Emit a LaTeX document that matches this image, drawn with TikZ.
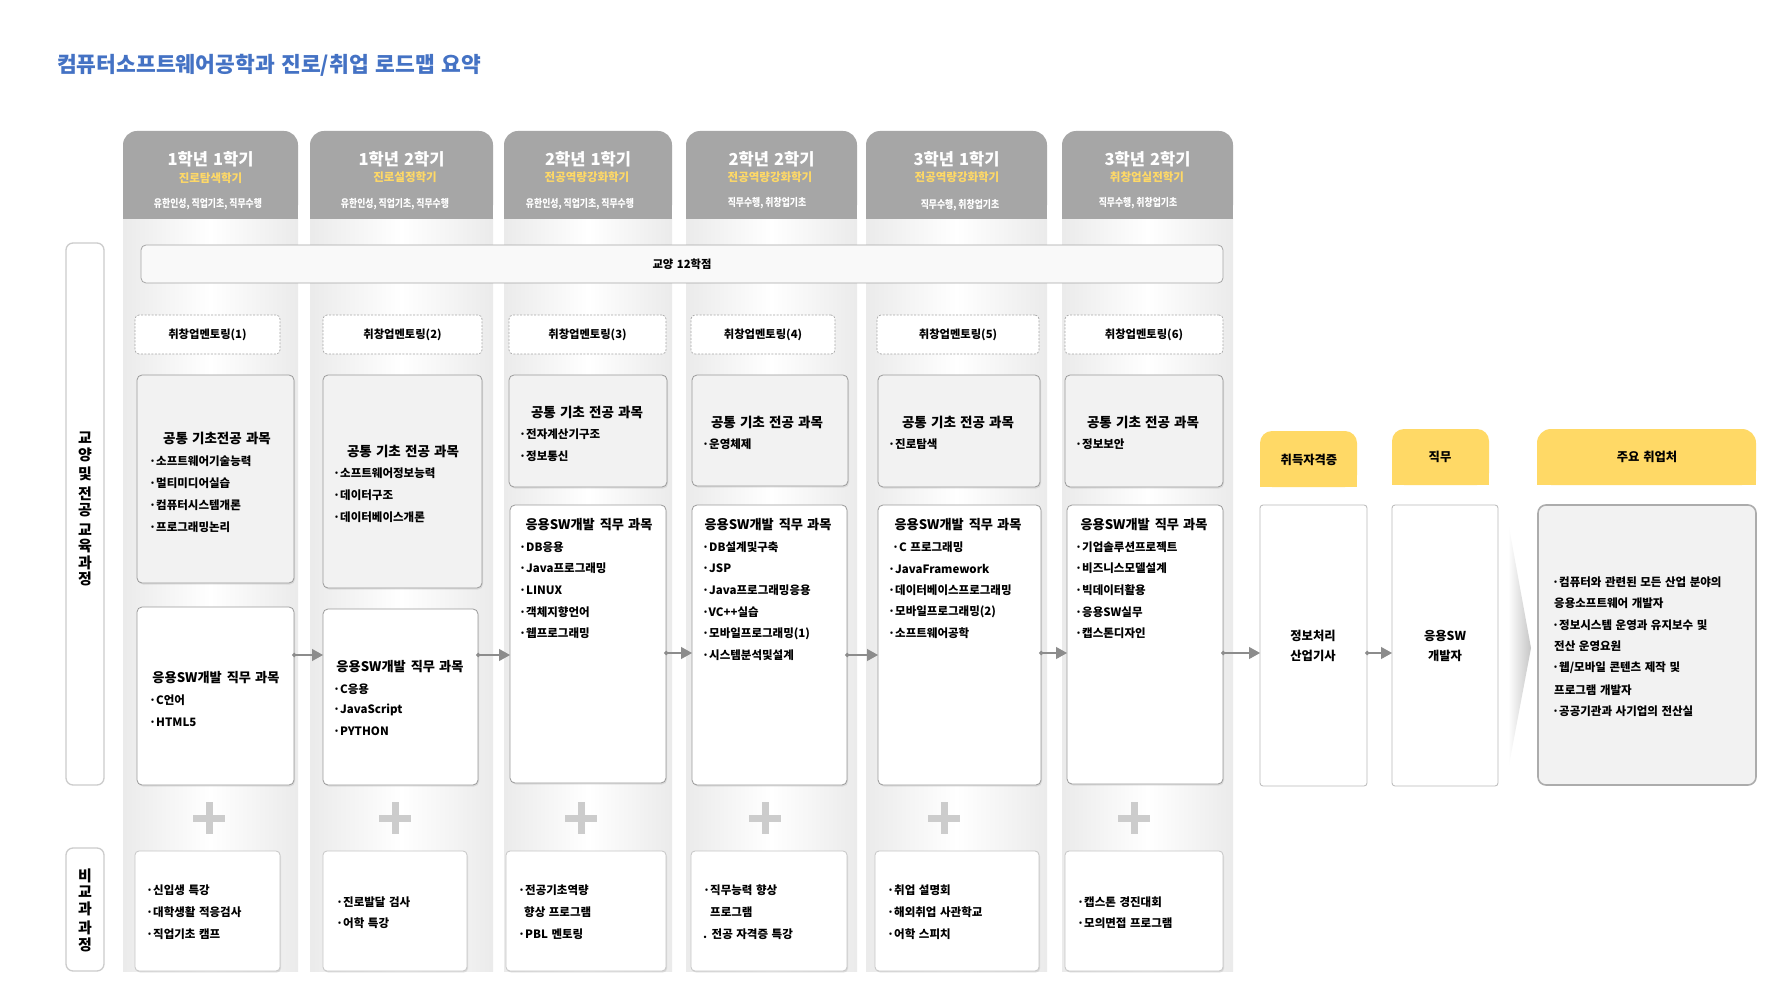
\documentclass[tikz,border=0pt]{standalone}
\usepackage{fontspec}
\setmainfont{Noto Sans CJK KR}[WordSpace=1.35]
\newfontfamily\krcond{Noto Sans CJK KR}[FakeStretch=0.82]
\usetikzlibrary{arrows.meta,shadows,calc}
\definecolor{hdr}{HTML}{A6A6A6}
\definecolor{ylw}{HTML}{FFD966}
\definecolor{ttl}{HTML}{4472C4}
\definecolor{bfill}{HTML}{F2F2F2}
\definecolor{bord}{HTML}{9A9A9A}
\definecolor{connc}{HTML}{8C8C8C}
\newcommand{\mkbox}[6]{\node[#1, minimum width={(#4)-(#2)}, minimum height={(#5)-(#3)}] (#6) at ({((#2)+(#4))/2},{((#3)+(#5))/2}) {};}
\newcommand{\jobtitle}{응용SW개발\hspace{5pt}직무 과목}
\tikzset{
  boxbase/.style={rectangle, inner sep=0pt, outer sep=0pt, rounded corners=5pt, draw=bord, line width=0.8pt},
  shd/.style={drop shadow={opacity=0.18, shadow xshift=1pt, shadow yshift=-1.5pt}},
  basebox/.style={boxbase, fill=bfill, shd},
  jobbox/.style={boxbase, fill=white, shd},
  extbox/.style={boxbase, draw=gray!45, rounded corners=4pt, fill=white, shd},
  mentor/.style={boxbase, draw=gray!70, line width=0.7pt, dash pattern=on 2pt off 1.5pt, rounded corners=4pt, fill=white},
  barbox/.style={boxbase, draw=gray!70, fill=gray!5},
  sidebox/.style={boxbase, draw=gray!40, line width=1.3pt, rounded corners=7pt, fill=white},
  rbox/.style={boxbase, draw=gray!55, rounded corners=3pt, fill=white},
  empbox/.style={boxbase, draw=gray!65, line width=1.6pt, rounded corners=8pt, fill=bfill},
  itm/.style={anchor=west, inner sep=0pt, font=\fontsize{11.5}{13}\selectfont\bfseries},
  ctr/.style={anchor=center, inner sep=0pt, font=\fontsize{11.3}{13}\selectfont\bfseries},
  btitle/.style={anchor=center, inner sep=0pt, font=\fontsize{13.5}{15}\selectfont\bfseries},
  jtitle/.style={anchor=center, inner sep=0pt, font=\fontsize{13.2}{15}\selectfont\bfseries},
  hA/.style={anchor=center, inner sep=0pt, text=white, font=\fontsize{16.5}{18}\selectfont\bfseries},
  hB/.style={anchor=center, inner sep=0pt, text=ylw, font=\fontsize{11.5}{13}\selectfont\bfseries},
  hC/.style={anchor=center, inner sep=0pt, text=white, font=\krcond\fontsize{10.8}{12}\selectfont\bfseries},
  tabtxt/.style={anchor=center, inner sep=0pt, font=\fontsize{12.3}{14}\selectfont\bfseries},
  vlab/.style={anchor=center, inner sep=0pt, align=center, font=\fontsize{15}{16.5}\selectfont\bfseries},
  conn/.style={draw=connc, line width=1.1pt, arrows={Circle[length=4.5pt]-Triangle[length=11pt,width=12pt]}, shorten <=-2pt},
  plusc/.style={draw=gray!40, line width=7pt}
}
\begin{document}
\begin{tikzpicture}[x=1pt,y=-1pt]
\fill[white] (0,0) rectangle (1792,1008);
\useasboundingbox (0,0) rectangle (1792,1008);

% title
\node[anchor=west, inner sep=0pt, text=ttl, font=\fontsize{21.5}{24}\selectfont\bfseries] (title) at (57,65) {컴퓨터소프트웨어공학과 진로/취업 로드맵 요약};

% columns
\foreach \xa/\xb in {123/298, 310/493, 504/672, 686/857, 866/1047, 1062/1233} {
  \shade[left color=gray!16, right color=gray!16, middle color=white] (\xa,219) rectangle (\xb,971);
  \fill[hdr, rounded corners=14pt] (\xa,131) rectangle (\xb,219);
  \fill[hdr] (\xa,175) rectangle (\xb,219);
}

% header texts
\node[hA] (h1a) at (210.5,159) {1학년 1학기};
\node[hB] (h1b) at (210.5,178) {진로탐색학기};
\node[hC] (h1c) at (208,204) {유한인성, 직업기초, 직무수행};
\node[hA] (h2a) at (401.5,159) {1학년 2학기};
\node[hB] (h2b) at (405,177) {진로설정학기};
\node[hC] (h2c) at (395,204) {유한인성, 직업기초, 직무수행};
\node[hA] (h3a) at (588,159) {2학년 1학기};
\node[hB] (h3b) at (587,177) {전공역량강화학기};
\node[hC] (h3c) at (580,204) {유한인성, 직업기초, 직무수행};
\node[hA] (h4a) at (771.5,159) {2학년 2학기};
\node[hB] (h4b) at (770,177) {전공역량강화학기};
\node[hC] (h4c) at (767,203) {직무수행, 취창업기초};
\node[hA] (h5a) at (956.5,159) {3학년 1학기};
\node[hB] (h5b) at (957,177) {전공역량강화학기};
\node[hC] (h5c) at (960,205) {직무수행, 취창업기초};
\node[hA] (h6a) at (1147.5,159) {3학년 2학기};
\node[hB] (h6b) at (1147,177) {취창업실전학기};
\node[hC] (h6c) at (1138,203) {직무수행, 취창업기초};

% side labels
\mkbox{sidebox}{66}{243}{104}{785}{sideA}
\node[vlab] (sideAt) at (85,509) {교\\양\\[3pt]및\\[3pt]전\\공\\[3pt]교\\육\\과\\정};
\mkbox{sidebox}{66}{848}{104}{971}{sideB}
\node[vlab] (sideBt) at (85,910) {비\\교\\과\\[3pt]과\\정};

% general education bar
\mkbox{barbox}{141}{245}{1223}{283}{bar}
\node[ctr] (bart) at (bar) {교양 12학점};

% mentoring
\mkbox{mentor}{135}{315}{280}{354}{m1}
\mkbox{mentor}{323}{315}{482}{354}{m2}
\mkbox{mentor}{509}{315}{666}{354}{m3}
\mkbox{mentor}{691}{315}{835}{354}{m4}
\mkbox{mentor}{877}{315}{1039}{354}{m5}
\mkbox{mentor}{1065}{315}{1223}{354}{m6}
\foreach \i in {1,...,6} \node[ctr] (m\i t) at (m\i) {취창업멘토링(\i)};

% common basic major boxes
\mkbox{basebox}{137}{375}{294}{583}{b1}
\mkbox{basebox}{323}{375}{482}{588}{b2}
\mkbox{basebox}{509}{375}{667}{487}{b3}
\mkbox{basebox}{692}{375}{848}{486}{b4}
\mkbox{basebox}{878}{375}{1040}{487}{b5}
\mkbox{basebox}{1065}{375}{1223}{487}{b6}
\node[btitle] (b1t) at (217,438) {공통 기초전공 과목};
\foreach \t [count=\i] in {·소프트웨어기술능력, ·멀티미디어실습, ·컴퓨터시스템개론, ·프로그래밍논리}
  \node[itm] (b1i\i) at (149,{461+22*(\i-1)}) {\t};
\node[btitle] (b2t) at (403,451) {공통 기초 전공 과목};
\foreach \t [count=\i] in {·소프트웨어정보능력, ·데이터구조, ·데이터베이스개론}
  \node[itm] (b2i\i) at (333,{473+22*(\i-1)}) {\t};
\node[btitle] (b3t) at (587,412) {공통 기초 전공 과목};
\foreach \t [count=\i] in {·전자계산기구조, ·정보통신}
  \node[itm] (b3i\i) at (519,{434+22*(\i-1)}) {\t};
\node[btitle] (b4t) at (767,422) {공통 기초 전공 과목};
\node[itm] (b4i1) at (702,444) {·운영체제};
\node[btitle] (b5t) at (958,422) {공통 기초 전공 과목};
\node[itm] (b5i1) at (888,444) {·진로탐색};
\node[btitle] (b6t) at (1143,422) {공통 기초 전공 과목};
\node[itm] (b6i1) at (1075,444) {·정보보안};

% job course boxes
\mkbox{jobbox}{137}{607}{294}{785}{j1}
\mkbox{jobbox}{323}{609}{478}{785}{j2}
\mkbox{jobbox}{510}{505}{666}{783}{j3}
\mkbox{jobbox}{692}{505}{847}{785}{j4}
\mkbox{jobbox}{878}{505}{1041}{785}{j5}
\mkbox{jobbox}{1067}{505}{1223}{784}{j6}
\node[jtitle] (j1t) at (216,678) {\jobtitle};
\foreach \t [count=\i] in {·C언어, ·HTML5}
  \node[itm] (j1i\i) at (149,{700+22*(\i-1)}) {\t};
\node[jtitle] (j2t) at (400,667) {\jobtitle};
\foreach \t [count=\i] in {·C응용, ·JavaScript, ·PYTHON}
  \node[itm] (j2i\i) at (333,{689+21.3*(\i-1)}) {\t};
\node[jtitle] (j3t) at (589,525) {\jobtitle};
\foreach \t [count=\i] in {·DB응용, ·Java프로그래밍, ·LINUX, ·객체지향언어, ·웹프로그래밍}
  \node[itm] (j3i\i) at (519,{547+21.6*(\i-1)}) {\t};
\node[jtitle] (j4t) at (768,525) {\jobtitle};
\foreach \t [count=\i] in {·DB설계및구축, ·JSP, ·Java프로그래밍응용, ·VC++실습, ·모바일프로그래밍(1), ·시스템분석및설계}
  \node[itm] (j4i\i) at (702,{547+21.6*(\i-1)}) {\t};
\node[jtitle] (j5t) at (958,525) {\jobtitle};
\node[itm] (j5i1) at (892,547) {·C 프로그래밍};
\foreach \t [count=\i from 2] in {·JavaFramework, ·데이터베이스프로그래밍, ·모바일프로그래밍(2), ·소프트웨어공학}
  \node[itm] (j5i\i) at (888,{547+21.6*(\i-1)}) {\t};
\node[jtitle] (j6t) at (1144,525) {\jobtitle};
\foreach \t [count=\i] in {·기업솔루션프로젝트, ·비즈니스모델설계, ·빅데이터활용, ·응용SW실무, ·캡스톤디자인}
  \node[itm] (j6i\i) at (1075,{547+21.6*(\i-1)}) {\t};

% plus signs
\foreach \px in {209,395,581,765,944,1134} {
  \draw[plusc] (\px-16,818) -- (\px+16,818);
  \draw[plusc] (\px,802) -- (\px,834);
}

% extracurricular boxes
\mkbox{extbox}{135}{851}{280}{971}{e1}
\mkbox{extbox}{323}{851}{467}{971}{e2}
\mkbox{extbox}{506}{851}{666}{971}{e3}
\mkbox{extbox}{691}{851}{847}{971}{e4}
\mkbox{extbox}{875}{851}{1039}{971}{e5}
\mkbox{extbox}{1065}{851}{1223}{971}{e6}
\foreach \t [count=\i] in {·신입생 특강, ·대학생활 적응검사, ·직업기초 캠프}
  \node[itm] (e1i\i) at (146,{890+22*(\i-1)}) {\t};
\foreach \t [count=\i] in {·진로발달 검사, ·어학 특강}
  \node[itm] (e2i\i) at (336,{902+21.5*(\i-1)}) {\t};
\node[itm] (e3i1) at (518,890) {·전공기초역량};
\node[itm] (e3i2) at (524,912) {향상 프로그램};
\node[itm] (e3i3) at (518,934) {·PBL 멘토링};
\node[itm] (e4i1) at (703,890) {·직무능력 향상};
\node[itm] (e4i2) at (710,912) {프로그램};
\node[itm] (e4i3) at (703,934) {. 전공 자격증 특강};
\foreach \t [count=\i] in {·취업 설명회, ·해외취업 사관학교, ·어학 스피치}
  \node[itm] (e5i\i) at (887,{890+22*(\i-1)}) {\t};
\foreach \t [count=\i] in {·캡스톤 경진대회, ·모의면접 프로그램}
  \node[itm] (e6i\i) at (1077,{902+21.5*(\i-1)}) {\t};

% right side tabs
\fill[ylw, rounded corners=12pt] (1260,431) rectangle (1357,487);
\fill[ylw] (1260,460) rectangle (1357,487);
\fill[ylw, rounded corners=12pt] (1392,429) rectangle (1489,485);
\fill[ylw] (1392,458) rectangle (1489,485);
\fill[ylw, rounded corners=14pt] (1537,429) rectangle (1756,485);
\fill[ylw] (1537,458) rectangle (1756,485);
\node[tabtxt] (tab1) at (1309,460) {취득자격증};
\node[tabtxt] (tab2) at (1440,457) {직무};
\node[tabtxt] (tab3) at (1647,457) {주요 취업처};

% right side boxes
\mkbox{rbox}{1260}{505}{1367}{786}{cert}
\node[tabtxt, align=center] (certt) at (1313,646) {정보처리\\[6pt]산업기사};
\mkbox{rbox}{1392}{505}{1498}{786}{job}
\node[tabtxt, align=center] (jobt) at (1445,646) {응용SW\\[6pt]개발자};
\shade[left color=white, right color=gray!45] (1508,522) -- (1531,648) -- (1508,770) -- cycle;
\mkbox{empbox}{1538}{505}{1756}{785}{emp}
\node[itm] (emp1) at (1552,582) {·컴퓨터와 관련된 모든 산업 분야의};
\node[itm] (emp2) at (1554,603) {응용소프트웨어 개발자};
\node[itm] (emp3) at (1552,625) {·정보시스템 운영과 유지보수 및};
\node[itm] (emp4) at (1554,646) {전산 운영요원};
\node[itm] (emp5) at (1552,668) {·웹/모바일 콘텐츠 제작 및};
\node[itm] (emp6) at (1554,690) {프로그램 개발자};
\node[itm] (emp7) at (1552,711) {·공공기관과 사기업의 전산실};

% connectors
\coordinate (ya) at (0,655);
\coordinate (yb) at (0,653);
\draw[conn] (j1.east |- ya) -- (j2.west |- ya);
\draw[conn] (j2.east |- ya) -- (j3.west |- ya);
\draw[conn] (j3.east |- yb) -- (j4.west |- yb);
\draw[conn] (j4.east |- ya) -- (j5.west |- ya);
\draw[conn] (j5.east |- yb) -- (j6.west |- yb);
\draw[conn] (j6.east |- yb) -- (cert.west |- yb);
\draw[conn] (cert.east |- yb) -- (job.west |- yb);
\end{tikzpicture}
\end{document}
